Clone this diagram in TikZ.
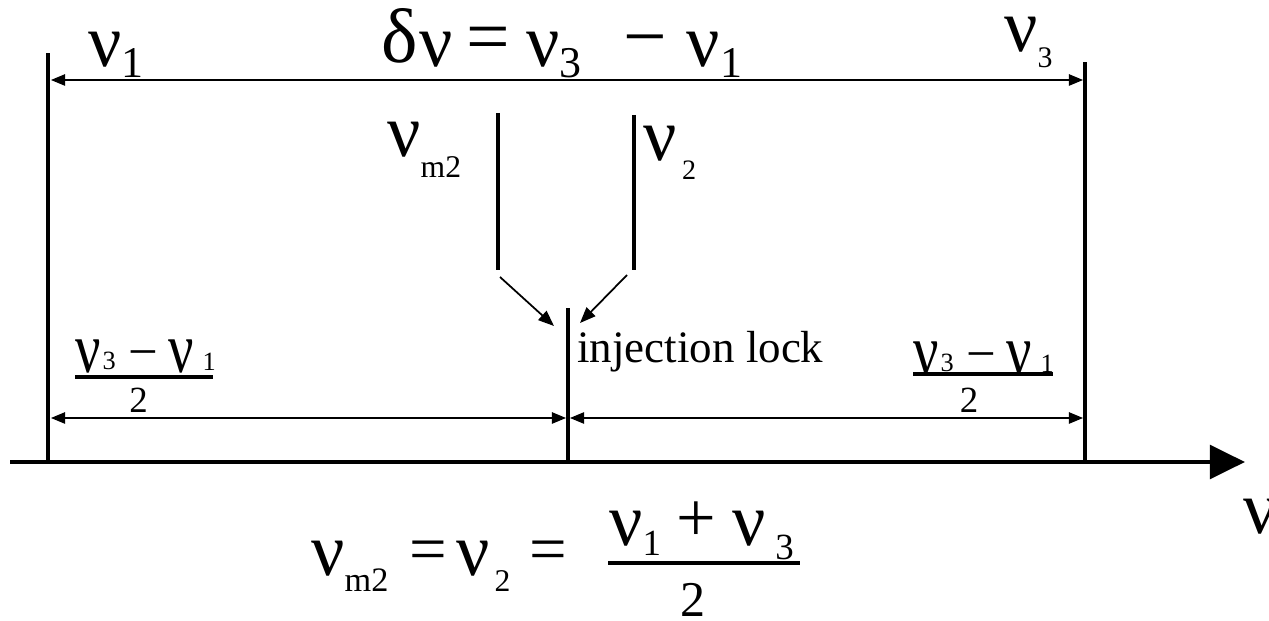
\documentclass[tikz,border=0pt]{standalone}
\usepackage{fontspec}
\setmainfont{Liberation Serif}
\usepackage{graphicx}
\usetikzlibrary{arrows.meta}

\newcommand{\bignu}{\raisebox{-2pt}{\resizebox*{19pt}{20pt}{ν}}}
\newcommand{\fracnu}{\raisebox{-1.5pt}{\resizebox*{14.5pt}{19pt}{ν}}}
\newcommand{\lo}[3]{\raisebox{-#1}{\fontsize{#2}{#2}\selectfont #3}}
\newcommand{\halfnum}{\fracnu\kern1pt\lo{0pt}{15}{3}\kern7pt{\fontsize{30}{30}\selectfont −}\kern6pt\fracnu\kern5pt\lo{0.5pt}{15}{1}}

\begin{document}
\begin{tikzpicture}[x=0.02cm, y=-0.02cm,
  lbl/.style={inner sep=0pt, anchor=base west, font=\fontsize{20}{22}\selectfont},
  denom/.style={inner sep=0pt, anchor=base},
  specline/.style={line width=2.8pt},
  sideline/.style={line width=2.5pt},
  dimarrow/.style={{Triangle[length=8pt,width=6.5pt]}-{Triangle[length=8pt,width=6.5pt]}, line width=0.7pt},
  lockarrow/.style={-{Triangle[length=9pt,width=7pt]}, line width=1pt},
  axisline/.style={-{Triangle[length=20pt,width=19pt]}, line width=2.8pt},
  fracbar/.style={line width=2.3pt}
]
\useasboundingbox (0,0) rectangle (1269,621);

\coordinate (axisstart) at (10,462);
\coordinate (axisend) at (1245,462);
\coordinate (nu1top) at (48,53);
\coordinate (nu1bot) at (48,462);
\coordinate (nu3top) at (1085,62);
\coordinate (nu3bot) at (1085,462);
\coordinate (locktop) at (568,308);
\coordinate (lockbot) at (568,462);
\coordinate (m2top) at (498,113);
\coordinate (m2bot) at (498,270);
\coordinate (n2top) at (634,115);
\coordinate (n2bot) at (634,270);

\draw[axisline] (axisstart) -- (axisend);
\draw[specline] (nu1bot) -- (nu1top);
\draw[specline] (nu3bot) -- (nu3top);
\draw[specline] (lockbot) -- (locktop);
\draw[sideline] (m2top) -- (m2bot);
\draw[sideline] (n2top) -- (n2bot);

\coordinate (topl) at (51,80);
\coordinate (topr) at (1083,80);
\coordinate (lowl) at (51,418);
\coordinate (lowml) at (566,418);
\coordinate (lowmr) at (570,418);
\coordinate (lowr) at (1083,418);
\draw[dimarrow] (topl) -- (topr);
\draw[dimarrow] (lowl) -- (lowml);
\draw[dimarrow] (lowmr) -- (lowr);

\coordinate (m2from) at (500,277);
\coordinate (m2to) at (554,326);
\coordinate (n2from) at (627,275);
\coordinate (n2to) at (580,323);
\draw[lockarrow] (m2from) -- (m2to);
\draw[lockarrow] (n2from) -- (n2to);

\node[lbl] (nuone) at (88,63) {\bignu\lo{8pt}{25}{1}};
\node[lbl, font=\fontsize{44}{46}\selectfont] (gapeq) at (381,63) {δ\kern1pt\bignu\kern8pt=\kern9pt\bignu\lo{8pt}{25}{3}\kern24pt−\kern11pt\bignu\lo{8pt}{25}{1}};
\node[lbl] (nuthree) at (1004,48) {\bignu\lo{11pt}{17}{3}};
\node[lbl] (num2) at (387,153) {\bignu\lo{14pt}{18}{m2}};
\node[lbl] (nutwo) at (643,157) {\bignu\kern3pt\lo{13pt}{16}{2}};
\node[lbl, font=\fontsize{25.6}{28}\selectfont] (lock) at (577,363) {injection lock};

\node[lbl] (lnum) at (75,370) {\halfnum};
\draw[fracbar] (75,377) -- (213,377);
\node[denom, font=\fontsize{21}{23}\selectfont] (lden) at (138.5,413) {2};
\node[lbl] (rnum) at (913,372) {\halfnum};
\draw[fracbar] (913,374) -- (1053,374);
\node[denom, font=\fontsize{21}{23}\selectfont] (rden) at (969,413) {2};

\node[lbl, font=\fontsize{38}{40}\selectfont] (lockeq) at (311,572) {\bignu\lo{11pt}{19.5}{m2}\kern12pt=\kern5pt\bignu\kern3pt\lo{11pt}{18}{2}\kern11pt=};
\node[lbl, font=\fontsize{40}{42}\selectfont] (sumnum) at (609,542) {\bignu\lo{7.4pt}{21}{1}\kern8.8pt+\kern9pt\bignu\kern5.7pt\lo{10pt}{21}{3}};
\draw[fracbar] (608,563) -- (800,563);
\node[denom, font=\fontsize{28.5}{30}\selectfont] (sumden) at (693.5,617) {2};

\node[lbl] (axisnu) at (1243,530) {\bignu};
\end{tikzpicture}
\end{document}
